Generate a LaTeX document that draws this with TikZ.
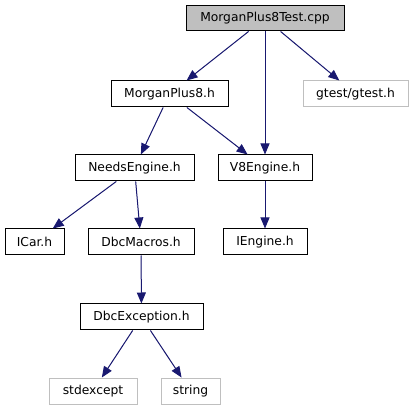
\documentclass[tikz,border=0pt]{standalone}
\usepackage{fontspec}
\setmainfont{DejaVu Sans}
\usetikzlibrary{arrows.meta}
\definecolor{edgec}{HTML}{191970}
\definecolor{extc}{HTML}{BFBFBF}
\tikzset{
  box/.style={draw=black, line width=1pt, fill=white, inner sep=0pt, font=\fontsize{12.3}{14}\selectfont, anchor=center},
  ext/.style={box, draw=extc},
  top/.style={box, fill=extc},
  dep/.style={draw=edgec, line width=1pt, -{Triangle[length=11pt,width=9pt]}, fill=edgec}
}
\newcommand{\bx}[7]{% name, style, x1,y1,x2,y2, text
  \node[#2, minimum width=#5pt-#3pt, minimum height=#6pt-#4pt] (#1) at ({(#3+#5)/2*1pt},{-(#4+#6)/2*1pt}) {#7};}
\begin{document}
\begin{tikzpicture}[x=1pt,y=1pt]
\useasboundingbox (0,0) rectangle (412,-411);
\bx{test}{top}{186}{6}{344}{31}{MorganPlus8Test.cpp}
\bx{mp}{box}{111}{81}{228}{107}{MorganPlus8.h}
\bx{gt}{ext}{303}{81}{408}{107}{gtest/gtest.h}
\bx{ne}{box}{75}{155}{194}{181}{NeedsEngine.h}
\bx{v8}{box}{218}{155}{312}{181}{V8Engine.h}
\bx{icar}{box}{5}{229}{64}{255}{ICar.h}
\bx{dm}{box}{88}{229}{194}{255}{DbcMacros.h}
\bx{ie}{box}{223}{229}{307}{255}{IEngine.h}
\bx{de}{box}{80}{304}{203}{330}{DbcException.h}
\bx{se}{ext}{49}{378}{137}{404}{stdexcept}
\bx{st}{ext}{161}{378}{220}{404}{string}
\draw[dep] (test) -- (mp);
\draw[dep] (test.south -| v8) -- (v8);
\draw[dep] (test) -- (gt);
\draw[dep] (mp) -- (ne);
\draw[dep] (mp) -- (v8);
\draw[dep] (ne) -- (icar);
\draw[dep] (ne) -- (dm);
\draw[dep] (v8) -- (ie);
\draw[dep] (dm) -- (de);
\draw[dep] (de) -- (se);
\draw[dep] (de) -- (st);
\end{tikzpicture}
\end{document}
